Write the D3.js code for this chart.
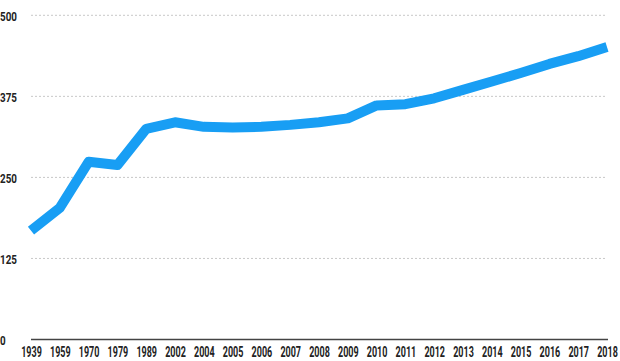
<!DOCTYPE html>
<html><head><meta charset="utf-8">
<script src="https://cdn.jsdelivr.net/npm/d3@7"></script>
<style>
body{margin:0;background:#fff;}
svg{display:block;}
text{font-family:Roboto,"DejaVu Sans",sans-serif;font-weight:bold;fill:#222;}
</style></head><body>
<svg id="c" width="620" height="361"></svg>
<script>
const years = ["1939","1959","1970","1979","1989","2002","2004","2005","2006","2007","2008","2009","2010","2011","2012","2013","2014","2015","2016","2017","2018"];
const values = [168,203,274,269,325,335,328,327,328,331,335,341,361,363,372,385,398,411,425,437,451];
const yTicks = [0,125,250,375,500];

const svg = d3.select("#c");
const x = d3.scalePoint().domain(years).range([31,607]);
const y = d3.scaleLinear().domain([0,500]).range([339.5,15.3]);

// gridlines
svg.append("g").selectAll("line").data(yTicks.filter(d=>d>0)).join("line")
  .attr("x1",31).attr("x2",607).attr("y1",d=>y(d)).attr("y2",d=>y(d))
  .attr("stroke","#c8c8c8").attr("stroke-width",1).attr("stroke-dasharray","2,2");

// y labels
svg.append("g").selectAll("text").data(yTicks).join("text")
  .attr("transform",d=>`translate(0,${y(d)+5.5}) scale(0.82,1)`)
  .attr("font-size",12).text(d=>d);

// baseline
svg.append("line").attr("x1",31).attr("x2",608).attr("y1",y(0)).attr("y2",y(0))
  .attr("stroke","#444").attr("stroke-width",1.5);

// x labels
const xAxis = svg.append("g").attr("transform",`translate(0,${y(0)})`)
  .call(d3.axisBottom(x).tickSize(0).tickPadding(0));
xAxis.select(".domain").remove();
xAxis.selectAll("text").attr("font-size",15).attr("dy",null)
  .attr("y",0).attr("transform","translate(0,17.5) scale(0.6,1)")
  .attr("fill","#222").style("font-family",'Roboto,sans-serif').style("font-weight","bold");

// line
const line = d3.line().x((d,i)=>x(years[i])).y(d=>y(d));
svg.append("path").datum(values).attr("d",line)
  .attr("fill","none").attr("stroke","#189ef4").attr("stroke-width",10)
  .attr("stroke-linejoin","round").attr("stroke-linecap","butt");
</script>
</body></html>
